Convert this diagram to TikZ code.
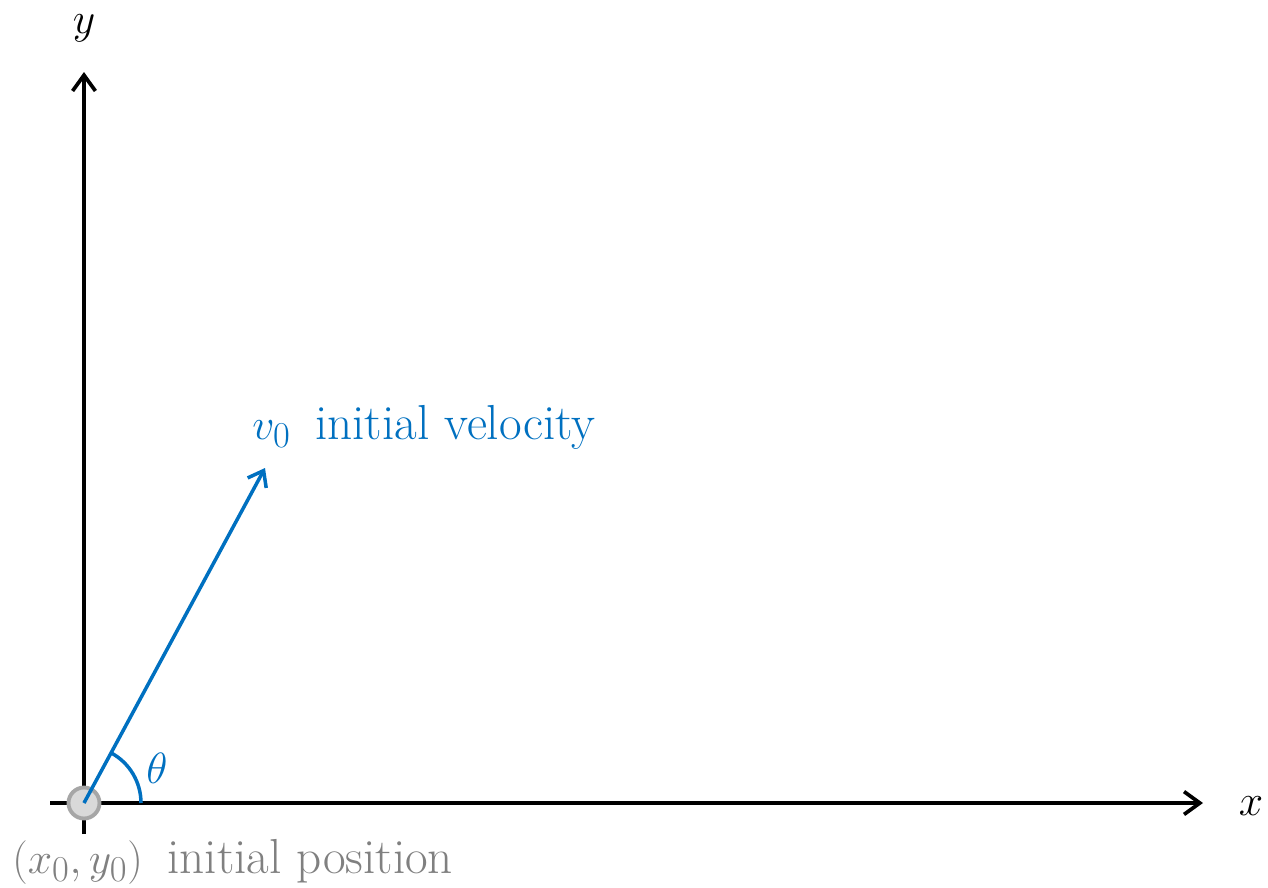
\documentclass[tikz,border=0pt]{standalone}
\usepackage{amsmath}
\usetikzlibrary{positioning, arrows.meta}
\definecolor{VelBlue}{RGB}{0, 112, 192}
\definecolor{PosGray}{RGB}{128, 128, 128}
\definecolor{DotFill}{RGB}{217, 217, 217}
\definecolor{DotEdge}{RGB}{166, 166, 166}

\begin{document}
\begin{tikzpicture}[x=0.02cm, y=-0.02cm, font=\fontsize{28}{33}\selectfont,
    axis/.style={line width=2.1pt, -{Straight Barb[length=9pt, width=13pt, line width=2.1pt]}},
    vel/.style={VelBlue, line width=2pt}]
    \useasboundingbox (0,0) rectangle (1268,887);

    % Axes
    \coordinate (xl) at (50,803);
    \coordinate (xr) at (1203,803);
    \coordinate (yb) at (84,834);
    \coordinate (yt) at (84,72);
    \draw[axis] (xl) -- (xr);
    \draw[axis] (yb) -- (yt);
    \node (xlab) at (1251,806) {$x$};
    \node (ylab) at (84,28) {$y$};

    % Initial position
    \node[circle, draw=DotEdge, fill=DotFill, line width=2.2pt, minimum size=0.62cm, inner sep=0pt] (O) at (84,803) {};
    \node[PosGray, anchor=base west, inner sep=0pt] (pos) at (12,873) {$(x_0, y_0)$\enspace initial position};

    % Initial velocity
    \coordinate (v) at (265,468);
    \draw[vel, -{Straight Barb[length=8pt, width=12pt, line width=2pt]}] (O.center) -- (v);
    \node[VelBlue, anchor=base west, inner sep=0pt] (vlab) at (252,439) {$v_0$\enspace initial velocity};

    % Angle
    \draw[vel] (141,803) arc[start angle=0, end angle=61.6, radius=1.14cm];
    \node[VelBlue] (theta) at (157,768) {$\theta$};
\end{tikzpicture}
\end{document}
